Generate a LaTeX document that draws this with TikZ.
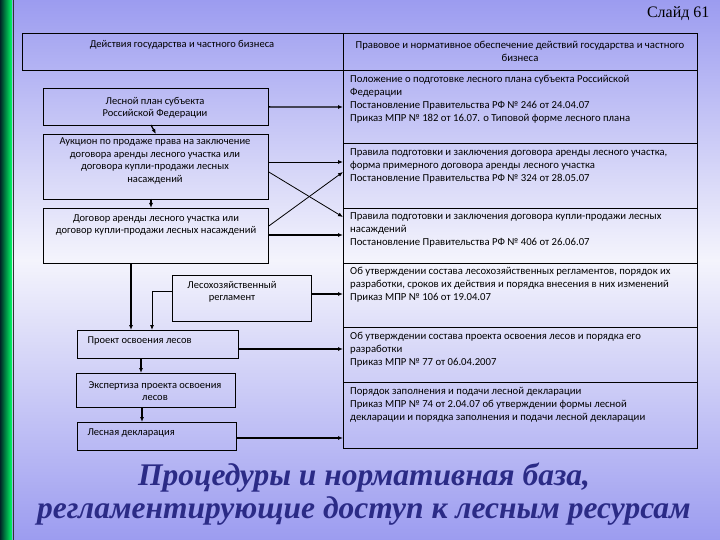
\documentclass[tikz,border=0pt]{standalone}
\usepackage{fontspec}
\setmainfont{Carlito}
\newfontfamily\titlefont{Liberation Serif}
\usetikzlibrary{arrows.meta}
\definecolor{bgtop}{HTML}{9C9CF0}
\definecolor{bgmid}{HTML}{F4F4FC}
\definecolor{titleblue}{HTML}{2B2B86}
\begin{document}
\begin{tikzpicture}[x=1pt,y=-1pt,
  box/.style={draw=black,line width=0.8pt,inner sep=0pt},
  txt/.style={font=\fontsize{10.5}{12.5}\selectfont,align=center},
  rtxt/.style={font=\fontsize{10.7}{13}\selectfont,align=left,anchor=north west,inner sep=0pt},
  arr/.style={line width=1.3pt,-{Latex[length=5pt,width=4pt]}},
  thin/.style={line width=0.8pt,-{Latex[length=5pt,width=4pt]}}]
\useasboundingbox (0,0) rectangle (720,540);
\shade[top color=bgtop,bottom color=bgmid] (0,0) rectangle (720,260);
\shade[top color=bgmid,bottom color=bgtop] (0,260) rectangle (720,540);
\shade[left color=black!70!teal,right color=green!60!cyan] (0,0) rectangle (12,540);
\draw[black!80,line width=1pt] (13,0) -- (13,540);
\node[font=\titlefont\fontsize{16}{16}\selectfont,anchor=east] (slide) at (713,14) {Слайд 61};
% header
\draw[box] (22,33) rectangle (343,70);
\node[txt] (hl) at (182,45) {Действия государства и частного бизнеса};
\draw[box] (343,33) rectangle (697,448);
\foreach \yy in {70,143,208,263,327,382} \draw[box] (343,\yy) -- (697,\yy);
\node[txt,font=\fontsize{10.7}{13}\selectfont] (hr) at (520,51) {Правовое и нормативное обеспечение действий государства и частного\\бизнеса};
\coordinate (r1) at (343,107);
\node[rtxt] (t1) at (350,75) {Положение о подготовке лесного плана субъекта Российской\\Федерации\\Постановление Правительства РФ № 246 от 24.04.07\\Приказ МПР № 182 от 16.07. о Типовой форме лесного плана};
\node[rtxt] (t2) at (350,148) {Правила подготовки и заключения договора аренды лесного участка,\\форма примерного договора аренды лесного участка\\Постановление Правительства РФ № 324 от 28.05.07};
\node[rtxt] (t3) at (350,212) {Правила подготовки и заключения договора купли-продажи лесных\\насаждений\\Постановление Правительства РФ № 406 от 26.06.07};
\node[rtxt] (t4) at (350,267) {Об утверждении состава лесохозяйственных регламентов, порядок их\\разработки, сроков их действия и порядка внесения в них изменений\\Приказ МПР № 106 от 19.04.07};
\node[rtxt] (t5) at (350,332) {Об утверждении состава проекта освоения лесов и порядка его\\разработки\\Приказ МПР № 77 от 06.04.2007};
\node[rtxt] (t6) at (350,387) {Порядок заполнения и подачи лесной декларации\\Приказ МПР № 74 от 2.04.07 об утверждении формы лесной\\декларации и порядка заполнения и подачи лесной декларации};
% left boxes
\node[box,minimum width=225,minimum height=37,anchor=north west] (plan) at (43,88) {};
\node[txt] at (155,108) {Лесной план субъекта\\Российской Федерации};
\node[box,minimum width=225,minimum height=65,anchor=north west] (auc) at (43,134) {};
\node[txt] at (155,161) {Аукцион по продаже права на заключение\\договора аренды лесного участка или\\договора купли-продажи лесных\\насаждений};
\node[box,minimum width=225,minimum height=55,anchor=north west] (dog) at (43,208) {};
\node[txt] at (156,225) {Договор аренды лесного участка или\\договор купли-продажи лесных насаждений};
\node[box,minimum width=139,minimum height=46,anchor=north west] (reg) at (172,275) {};
\node[txt] at (232,292) {Лесохозяйственный\\регламент};
\node[box,minimum width=161,minimum height=28,anchor=north west] (proj) at (77,330) {};
\node[txt,anchor=west] at (84,341) {Проект освоения лесов};
\node[box,minimum width=159,minimum height=34,anchor=north west] (exp) at (76,373) {};
\node[txt] at (155,391) {Экспертиза проекта освоения\\лесов};
\node[box,minimum width=159,minimum height=28,anchor=north west] (dec) at (77,422) {};
\node[txt,anchor=west] at (84,433) {Лесная декларация};
% connectors
\coordinate (r2a) at (343,162); \coordinate (r2b) at (343,172);
\coordinate (r3a) at (343,217); \coordinate (r3b) at (343,235);
\draw[arr] (plan.east) -- (r1);
\draw[thin] (auc.east |- r2a) -- (r2a);
\draw[thin] (auc.east |- r2b) -- (r3a);
\draw[thin] (dog.east |- 0,226) -- (r2b);
\draw[arr] (dog.east |- r3b) -- (r3b);
\draw[arr] (151,125) -- (plan.south |- auc.north);
\draw[arr] (151,199) -- (151,208);
\draw[arr] (131,263) -- (131,330);
\draw[thin] (reg.west |- 0,291) -- (152,291) -- (152,330);
\draw[arr] (reg.east |- 0,294) -- (343,294);
\draw[arr] (proj.east |- 0,349) -- (343,349);
\draw[arr] (141,358) -- (141,373);
\draw[arr] (142,407) -- (142,422);
\draw[arr] (dec.east |- 0,438) -- (343,438);
% title
\node[font=\titlefont\bfseries\itshape\fontsize{31.5}{33}\selectfont,text=titleblue,align=center] (title) at (364,494) {Процедуры и нормативная база,\\регламентирующие доступ к лесным ресурсам};
\end{tikzpicture}
\end{document}
